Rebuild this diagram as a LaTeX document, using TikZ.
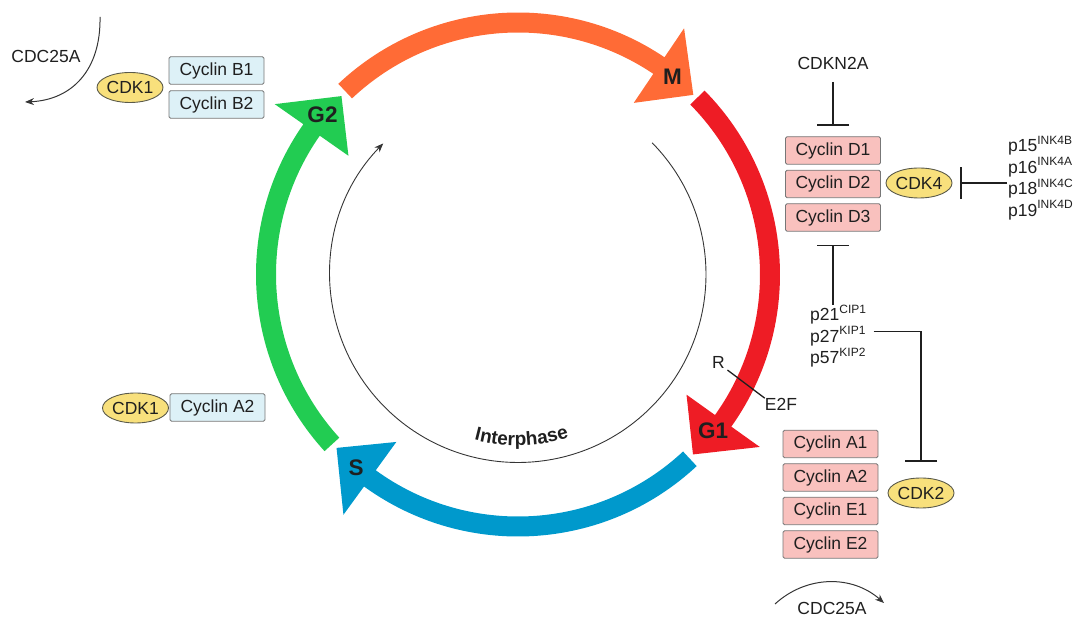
\documentclass[tikz,border=0pt]{standalone}
\usepackage{fontspec}
\setmainfont{Liberation Sans}
\usetikzlibrary{arrows.meta,calc,decorations.text,shapes.geometric}

\definecolor{ink}{HTML}{1F1F1F}
\definecolor{phaseM}{HTML}{FF6B36}
\definecolor{phaseGone}{HTML}{EE1C25}
\definecolor{phaseS}{HTML}{0099CC}
\definecolor{phaseGtwo}{HTML}{22CC52}
\definecolor{pinkbox}{HTML}{F9C1BE}
\definecolor{bluebox}{HTML}{DDF1F7}
\definecolor{boxline}{HTML}{777777}
\definecolor{kinfill}{HTML}{F8E07C}
\definecolor{kinline}{HTML}{5A5A4A}

% superscript for inhibitor names
\newcommand\supx[1]{\raisebox{7.5pt}{\fontsize{12}{12}\selectfont #1}}
\newcommand\interfont{\fontsize{19}{22}\selectfont\bfseries}

% thick curved phase arrow: colour, tail angle, head base angle
\newcommand\phasearrow[3]{%
  \fill[#1] (#2:262) arc[start angle=#2, end angle=#3, radius=262]
    -- (#3:297) -- ({#3-10.3}:251) -- (#3:207) -- (#3:242)
    arc[start angle=#3, end angle=#2, radius=242] -- cycle;}

\begin{document}
\begin{tikzpicture}[x=1pt,y=1pt,
  txt/.style={font=\fontsize{17.5}{21}\selectfont, text=ink, inner sep=0pt},
  cyc/.style={draw=boxline, line width=0.9pt, rounded corners=1.5pt,
    minimum width=95pt, minimum height=27.5pt, inner sep=0pt,
    font=\fontsize{17.5}{21}\selectfont, text=ink},
  cycD/.style={cyc, fill=pinkbox},
  cycB/.style={cyc, fill=bluebox},
  kin/.style={ellipse, draw=kinline, line width=0.9pt, fill=kinfill,
    minimum width=62pt, minimum height=30pt, inner sep=0pt,
    font=\fontsize{17.5}{21}\selectfont, text=ink},
  phase/.style={font=\fontsize{22.5}{24}\selectfont\bfseries, text=ink},
  inhibit/.style={draw=ink, line width=1.8pt, -{Bar[width=32pt]}},
  thinarrow/.style={draw=ink!90, line width=1pt, -{Stealth[length=9pt,width=7pt]}}
]
\useasboundingbox (0,0) rectangle (1078,618);

% cell cycle ring
\begin{scope}[shift={(518,343.5)}]
  \phasearrow{phaseM}{133.3}{56}
  \phasearrow{phaseGone}{44.6}{-35.5}
  \phasearrow{phaseS}{-47}{-126}
  \phasearrow{phaseGtwo}{-137.6}{-215}
  \draw[thinarrow, line width=0.9pt] (44.5:188) arc[start angle=44.5, end angle=-224.2, radius=188];
  \path[decorate, decoration={text along path, text color=ink,
      text={|\interfont|Interphase}, text align=center}]
    (-110:171) arc[start angle=-110, end angle=-67.5, radius=171];
\end{scope}

\node[phase] (lblM) at (672.5,541.5) {M};
\node[phase] (lblGtwo) at (322.5,503) {G2};
\node[phase] (lblGone) at (713,187) {G1};
\node[phase] (lblS) at (356,150.5) {S};

% G2/M: CDK1 with cyclin B
\node[txt] (cdcA) at (46,562) {CDC25A};
\coordinate (cdcAfrom) at (100,601);
\coordinate (cdcAto) at (25,516);
\draw[thinarrow] (cdcAfrom) .. controls (101,548) and (72,518) .. (cdcAto);
\node[kin] (cdkB) at (130,530.5) {CDK1};
\node[cycB] (cycBone) at (216.5,547.5) {Cyclin B1};
\node[cycB] (cycBtwo) at (216.5,513.5) {Cyclin B2};

% S: CDK1 with cyclin A2
\node[kin] (cdkA) at (135.5,210) {CDK1};
\node[cycB] (cycAtwoL) at (217.5,210.5) {Cyclin A2};

% G1: CDK4 with cyclin D
\node[txt] (cdkn) at (833,555) {CDKN2A};
\node[cycD] (dOne) at (833,467.5) {Cyclin D1};
\node[cycD] (dTwo) at (833,434) {Cyclin D2};
\node[cycD] (dThree) at (833,400.5) {Cyclin D3};
\node[kin] (cdkFour) at (919,435) {CDK4};
\node[txt, anchor=base west] (pOne) at (1008,466) {p15\supx{INK4B}};
\node[txt, anchor=base west] (pTwo) at (1008,444.5) {p16\supx{INK4A}};
\node[txt, anchor=base west] (pThree) at (1008,423) {p18\supx{INK4C}};
\node[txt, anchor=base west] (pFour) at (1008,401.5) {p19\supx{INK4D}};
\draw[inhibit, shorten <=12.5pt, shorten >=10pt] (cdkn) -- (dOne);
\draw[inhibit, shorten <=1pt, shorten >=8pt] (cdkFour -| pTwo.west) -- (cdkFour);

% CIP/KIP inhibitors
\node[txt, anchor=base west] (cip) at (810,297) {p21\supx{CIP1}};
\node[txt, anchor=base west] (kipOne) at (810,275.5) {p27\supx{KIP1}};
\node[txt, anchor=base west] (kipTwo) at (810,254) {p57\supx{KIP2}};
\draw[inhibit, shorten >=13pt] (cip.north -| dThree) -- (dThree);

% restriction point
\node[txt] (rpt) at (718.5,256) {R};
\node[txt] (etwof) at (781,213.5) {E2F};
\draw[ink, line width=1.3pt, shorten <=3pt] (rpt.south east) -- (etwof.north west);

% G1/S: CDK2 with cyclins A and E
\node[cycD] (aOne) at (830.5,174) {Cyclin A1};
\node[cycD] (aTwo) at (830.5,140.5) {Cyclin A2};
\node[cycD] (eOne) at (830.5,107) {Cyclin E1};
\node[cycD] (eTwo) at (830.5,73.5) {Cyclin E2};
\node[kin] (cdkTwo) at (921,125) {CDK2};
\draw[inhibit, shorten <=8pt, shorten >=16pt] ([yshift=11pt]kipOne.base east) -| (cdkTwo);

\node[txt] (cdcB) at (832,10) {CDC25A};
\coordinate (cdcBfrom) at (775,14);
\coordinate (cdcBto) at (884,15);
\draw[thinarrow] (cdcBfrom) to[bend left=42] (cdcBto);
\end{tikzpicture}
\end{document}
